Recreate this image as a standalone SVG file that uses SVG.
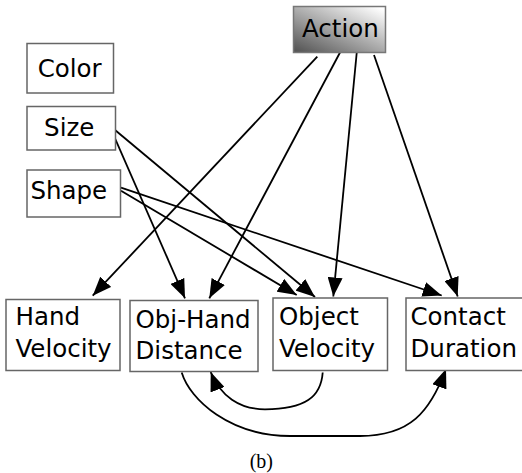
<svg xmlns="http://www.w3.org/2000/svg" width="522" height="473" viewBox="0 0 522 473">
<style>
.box{fill:#fff;stroke:#666;stroke-width:1.5}
.lbl{font-family:"DejaVu Sans","Noto Sans",sans-serif;font-size:24.5px;fill:#000}
.edge{fill:none;stroke:#000;stroke-width:1.8;marker-end:url(#arr)}
.cap{font-family:"Liberation Serif","Times New Roman",serif;font-size:20px;fill:#000}
</style>
<defs>
<linearGradient id="actGrad" x1="0" y1="1" x2="0.9" y2="0">
<stop offset="0" stop-color="#505050"/>
<stop offset="1" stop-color="#ffffff"/>
</linearGradient>
<marker id="arr" markerUnits="userSpaceOnUse" viewBox="0 0 19 15" refX="19" refY="7.5" markerWidth="19" markerHeight="15" orient="auto">
<path d="M0,0 L19,7.5 L0,15 z" fill="#000"/>
</marker>
</defs>
<rect width="522" height="473" fill="#fff"/>
<g id="connectors">
<line class="edge" x1="317.3" y1="56.7" x2="92.7" y2="295.7"/>
<line class="edge" x1="340" y1="52.5" x2="209.3" y2="298.3"/>
<line class="edge" x1="356.7" y1="53" x2="333.3" y2="296.5"/>
<line class="edge" x1="374" y1="55" x2="457.7" y2="296.5"/>
<line class="edge" x1="115" y1="138.3" x2="185" y2="298.3"/>
<line class="edge" x1="115" y1="130" x2="315" y2="297"/>
<line class="edge" x1="121" y1="190.7" x2="296.7" y2="295"/>
<line class="edge" x1="121" y1="187.7" x2="441.7" y2="295.5"/>
<path class="edge" d="M322.7,372.5 C321,397 305,409.3 265,409.3 C240,409.3 220,396 210.7,372"/>
<path class="edge" d="M181.7,372.5 C190,400 230,436 290,436 L360,436 C410,436 430,412 446,369"/>
</g>
<g id="action">
<rect x="293.5" y="6.5" width="92" height="46" fill="url(#actGrad)" stroke="#777" stroke-width="1.5"/>
<text class="lbl" x="302" y="36.7">Action</text>
</g>
<g id="color">
<rect class="box" x="27" y="43.5" width="86.5" height="49.5"/>
<text class="lbl" x="37.7" y="76.7">Color</text>
</g>
<g id="size">
<rect class="box" x="27" y="106.5" width="88.5" height="43.5"/>
<text class="lbl" x="44.1" y="136">Size</text>
</g>
<g id="shape">
<rect class="box" x="27" y="170" width="93.5" height="47"/>
<text class="lbl" x="30.4" y="199.3">Shape</text>
</g>
<g id="hand-velocity">
<rect class="box" x="6" y="299.5" width="114" height="71"/>
<text class="lbl" x="15.5" y="325.3">Hand</text>
<text class="lbl" x="15.5" y="356.7">Velocity</text>
</g>
<g id="obj-hand-distance">
<rect class="box" x="130" y="300.5" width="128" height="71"/>
<text class="lbl" x="135.5" y="327.7">Obj-Hand</text>
<text class="lbl" x="135.5" y="359">Distance</text>
</g>
<g id="object-velocity">
<rect class="box" x="273" y="298" width="114.5" height="72.5"/>
<text class="lbl" x="279" y="325">Object</text>
<text class="lbl" x="279" y="356.7">Velocity</text>
</g>
<g id="contact-duration">
<rect class="box" x="406" y="298" width="120" height="72.5"/>
<text class="lbl" x="410.5" y="325">Contact</text>
<text class="lbl" x="410.5" y="356.7">Duration</text>
</g>
<text class="cap" x="261.3" y="467.5" text-anchor="middle">(b)</text>
</svg>
